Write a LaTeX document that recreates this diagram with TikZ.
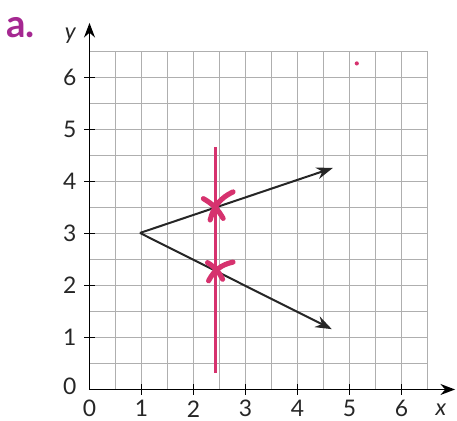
\documentclass[tikz,border=0pt]{standalone}
\usepackage{fontspec}
\setmainfont{Lato}
\usetikzlibrary{arrows.meta,calc}
\definecolor{pinkc}{RGB}{214,50,110}
\definecolor{magc}{RGB}{165,40,145}
\definecolor{gridc}{RGB}{175,175,175}
\begin{document}
\begin{tikzpicture}[x=1cm,y=1cm,
  gridline/.style={gridc,line width=0.6pt},
  axis/.style={black,line width=0.9pt,-{Stealth[length=8pt,width=6pt]}},
  ray/.style={black!85,line width=1.1pt,-{Stealth[length=9pt,width=6.5pt]}},
  perp/.style={pinkc,line width=1.7pt},
  arcmark/.style={pinkc,line width=2.8pt,line cap=round},
  ticklab/.style={font=\fontsize{12.5}{14}\selectfont,text=black!85,inner sep=0pt}]
\useasboundingbox (-1.721,-0.587) rectangle (7.067,7.490);
% grid
\draw[gridline] (0,0) grid[step=0.5] (6.5,6.5);
% axes
\draw[axis] (0,0) -- (7.03,0);
\draw[axis] (0,0) -- (0,7.05);
\foreach \i in {1,...,6} {
  \draw[black,line width=0.9pt] (\i,-0.1) -- (\i,0.1);
  \draw[black,line width=0.9pt] (-0.1,\i) -- (0.1,\i);
  \node[ticklab] (xl\i) at (\i,-0.37) {\i};
  \node[ticklab] (yl\i) at (-0.38,\i) {\i};
}
\node[ticklab] (xl0) at (0,-0.37) {0};
\node[ticklab] (yl0) at (-0.38,0.07) {0};
\node[ticklab,font=\fontsize{12.5}{14}\selectfont\itshape] (xlab) at (6.76,-0.39) {x};
\node[ticklab,font=\fontsize{12.5}{14}\selectfont\itshape] (ylab) at (-0.37,6.8) {y};
\node[inner sep=0pt,text=magc,font=\fontsize{21}{24}\selectfont\bfseries] (lab) at (-1.33,6.95) {a.};
% rays
\coordinate (V) at (0.97,3.01);
\coordinate (P) at (4.68,4.26);
\coordinate (Q) at (4.66,1.16);
\draw[ray] (V) -- (P);
\draw[ray] (V) -- (Q);
% perpendicular line
\coordinate (T) at (2.43,4.66);
\coordinate (B) at (2.43,0.32);
\draw[perp] (T) -- (B);
% compass marks
\coordinate (C1) at (2.43,3.49);
\coordinate (C2) at (2.43,2.29);
\draw[arcmark] ($(C1)+(-0.24,0.18)$) to[bend left=15] ($(C1)+(0.14,-0.2)$);
\draw[arcmark] ($(C1)+(-0.11,-0.23)$) to[bend left=25] ($(C1)+(0.33,0.31)$);
\draw[arcmark] ($(C2)+(-0.16,0.15)$) to[bend left=15] ($(C2)+(0.13,-0.17)$);
\draw[arcmark] ($(C2)+(-0.14,-0.2)$) to[bend left=25] ($(C2)+(0.33,0.16)$);
% dot
\fill[pinkc] (5.14,6.27) circle (0.04);
\end{tikzpicture}
\end{document}
